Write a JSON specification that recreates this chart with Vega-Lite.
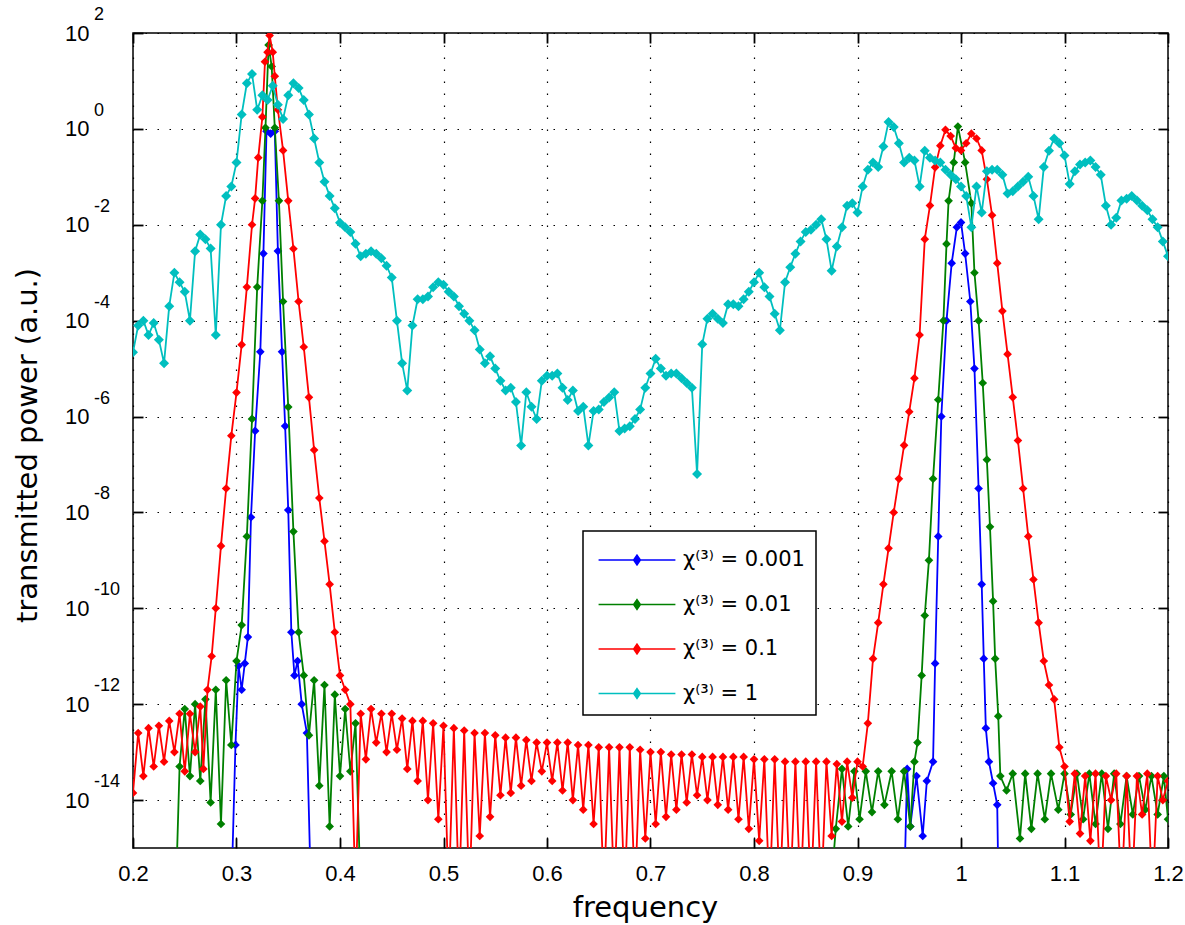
{
  "$schema": "https://vega.github.io/schema/vega-lite/v6.json",
  "width": 1035,
  "height": 815,
  "autosize": {"type": "none"},
  "padding": {"left": 133, "top": 33, "right": 17, "bottom": 77},
  "background": "white",
  "config": {
    "view": {"stroke": "black", "strokeWidth": 1.5},
    "font": "Liberation Sans",
    "axis": {
      "domain": false,
      "grid": true,
      "gridColor": "black",
      "gridDash": [1.5, 10.5],
      "gridWidth": 1.2,
      "tickColor": "black",
      "tickSize": -10,
      "tickWidth": 1.8,
      "labelColor": "black",
      "labelFont": "Liberation Sans",
      "labelFontSize": 22,
      "labelFlush": false,
      "labelOverlap": false,
      "labelBound": false,
      "titleColor": "black",
      "titleFont": "DejaVu Sans",
      "titleFontSize": 29,
      "titleFontWeight": "normal"
    }
  },
  "datasets": {
    "cyan": [
      {"x":0.2,"y":2.2e-5},{"x":0.205,"y":7.9e-5},{"x":0.21,"y":1e-4},{"x":0.215,"y":5e-5},{"x":0.22,"y":8.9e-5},{"x":0.225,"y":4e-5},{"x":0.23,"y":1.3e-5},{"x":0.235,"y":2e-4},{"x":0.24,"y":1e-3},{"x":0.245,"y":6.3e-4},
      {"x":0.25,"y":4e-4},{"x":0.255,"y":1e-4},{"x":0.26,"y":2.8e-3},{"x":0.265,"y":6.3e-3},{"x":0.27,"y":5e-3},{"x":0.275,"y":3.2e-3},{"x":0.28,"y":5e-5},{"x":0.285,"y":1e-2},{"x":0.29,"y":4e-2},{"x":0.295,"y":6.3e-2},
      {"x":0.3,"y":0.2},{"x":0.305,"y":2},{"x":0.31,"y":8.9},{"x":0.315,"y":14},{"x":0.32,"y":2.5},{"x":0.325,"y":5},{"x":0.33,"y":4},{"x":0.335,"y":7.9},{"x":0.34,"y":3.2},{"x":0.345,"y":1.6},
      {"x":0.35,"y":5},{"x":0.355,"y":8.9},{"x":0.36,"y":7.1},{"x":0.365,"y":4},{"x":0.37,"y":2},{"x":0.375,"y":0.63},{"x":0.38,"y":0.2},{"x":0.385,"y":7.9e-2},{"x":0.39,"y":4e-2},{"x":0.395,"y":2.2e-2},
      {"x":0.4,"y":1.1e-2},{"x":0.405,"y":8.9e-3},{"x":0.41,"y":7.1e-3},{"x":0.415,"y":4e-3},{"x":0.42,"y":2.2e-3},{"x":0.425,"y":2.5e-3},{"x":0.43,"y":2.8e-3},{"x":0.435,"y":2.5e-3},{"x":0.44,"y":2e-3},{"x":0.445,"y":1.4e-3},
      {"x":0.45,"y":7.9e-4},{"x":0.455,"y":1e-4},{"x":0.46,"y":1.3e-5},{"x":0.465,"y":3.5e-6},{"x":0.47,"y":7.9e-5},{"x":0.475,"y":2.8e-4},{"x":0.48,"y":2.8e-4},{"x":0.485,"y":3.2e-4},{"x":0.49,"y":5e-4},{"x":0.495,"y":6.3e-4},
      {"x":0.5,"y":5.6e-4},{"x":0.505,"y":4e-4},{"x":0.51,"y":3.2e-4},{"x":0.515,"y":2e-4},{"x":0.52,"y":1.4e-4},{"x":0.525,"y":1e-4},{"x":0.53,"y":6.3e-5},{"x":0.535,"y":2.5e-5},{"x":0.54,"y":1.3e-5},{"x":0.545,"y":1.8e-5},
      {"x":0.55,"y":1e-5},{"x":0.555,"y":5.6e-6},{"x":0.56,"y":3.5e-6},{"x":0.565,"y":4e-6},{"x":0.57,"y":2e-6},{"x":0.575,"y":2.5e-7},{"x":0.58,"y":3.2e-6},{"x":0.585,"y":1.6e-6},{"x":0.59,"y":8.9e-7},{"x":0.595,"y":5.6e-6},
      {"x":0.6,"y":7.1e-6},{"x":0.605,"y":7.1e-6},{"x":0.61,"y":7.9e-6},{"x":0.615,"y":4e-6},{"x":0.62,"y":2.2e-6},{"x":0.625,"y":3.5e-6},{"x":0.63,"y":1.3e-6},{"x":0.635,"y":1.6e-6},{"x":0.64,"y":2.5e-7},{"x":0.645,"y":1.3e-6},
      {"x":0.65,"y":1.4e-6},{"x":0.655,"y":2e-6},{"x":0.66,"y":2.5e-6},{"x":0.665,"y":3.2e-6},{"x":0.67,"y":5e-7},{"x":0.675,"y":5.6e-7},{"x":0.68,"y":6.3e-7},{"x":0.685,"y":8.9e-7},{"x":0.69,"y":1.4e-6},{"x":0.695,"y":4e-6},
      {"x":0.7,"y":7.9e-6},{"x":0.705,"y":1.6e-5},{"x":0.71,"y":1e-5},{"x":0.715,"y":7.1e-6},{"x":0.72,"y":7.9e-6},{"x":0.725,"y":7.9e-6},{"x":0.73,"y":6.3e-6},{"x":0.735,"y":5e-6},{"x":0.74,"y":4e-6},{"x":0.745,"y":6.3e-8},
      {"x":0.75,"y":3.2e-5},{"x":0.755,"y":1.1e-4},{"x":0.76,"y":1.4e-4},{"x":0.765,"y":1.1e-4},{"x":0.77,"y":8.9e-5},{"x":0.775,"y":2.2e-4},{"x":0.78,"y":2.2e-4},{"x":0.785,"y":2e-4},{"x":0.79,"y":2.8e-4},{"x":0.795,"y":4e-4},
      {"x":0.8,"y":6.3e-4},{"x":0.805,"y":1e-3},{"x":0.81,"y":5e-4},{"x":0.815,"y":3.2e-4},{"x":0.82,"y":1.4e-4},{"x":0.825,"y":6.3e-5},{"x":0.83,"y":6.3e-4},{"x":0.835,"y":1.3e-3},{"x":0.84,"y":2.5e-3},{"x":0.845,"y":4.5e-3},
      {"x":0.85,"y":7.1e-3},{"x":0.855,"y":7.9e-3},{"x":0.86,"y":1e-2},{"x":0.865,"y":1.3e-2},{"x":0.87,"y":5e-3},{"x":0.875,"y":1.1e-3},{"x":0.88,"y":3.5e-3},{"x":0.885,"y":8.9e-3},{"x":0.89,"y":2.5e-2},{"x":0.895,"y":2.8e-2},
      {"x":0.9,"y":1.8e-2},{"x":0.905,"y":6.3e-2},{"x":0.91,"y":0.14},{"x":0.915,"y":0.2},{"x":0.92,"y":0.16},{"x":0.925,"y":0.43},{"x":0.93,"y":1.4},{"x":0.935,"y":1.1},{"x":0.94,"y":0.5},{"x":0.945,"y":0.2},
      {"x":0.95,"y":0.25},{"x":0.955,"y":0.22},{"x":0.96,"y":6.3e-2},{"x":0.965,"y":0.35},{"x":0.97,"y":0.25},{"x":0.975,"y":0.22},{"x":0.98,"y":0.2},{"x":0.985,"y":0.14},{"x":0.99,"y":0.11},{"x":0.995,"y":8.9e-2},
      {"x":1,"y":6.3e-2},{"x":1.005,"y":4e-2},{"x":1.01,"y":8.9e-3},{"x":1.015,"y":6.3e-2},{"x":1.02,"y":1.8e-2},{"x":1.025,"y":0.13},{"x":1.03,"y":0.14},{"x":1.035,"y":0.14},{"x":1.04,"y":0.11},{"x":1.045,"y":4.5e-2},
      {"x":1.05,"y":5e-2},{"x":1.055,"y":6.3e-2},{"x":1.06,"y":7.9e-2},{"x":1.065,"y":0.1},{"x":1.07,"y":4e-2},{"x":1.075,"y":1.3e-2},{"x":1.08,"y":0.16},{"x":1.085,"y":0.35},{"x":1.09,"y":0.63},{"x":1.095,"y":0.5},
      {"x":1.1,"y":0.28},{"x":1.105,"y":7.1e-2},{"x":1.11,"y":0.13},{"x":1.115,"y":0.18},{"x":1.12,"y":0.2},{"x":1.125,"y":0.22},{"x":1.13,"y":0.16},{"x":1.135,"y":0.11},{"x":1.14,"y":2.5e-2},{"x":1.145,"y":1e-2},
      {"x":1.15,"y":1.4e-2},{"x":1.155,"y":3.2e-2},{"x":1.16,"y":3.5e-2},{"x":1.165,"y":4e-2},{"x":1.17,"y":3.2e-2},{"x":1.175,"y":2.5e-2},{"x":1.18,"y":2e-2},{"x":1.185,"y":1.3e-2},{"x":1.19,"y":8.9e-3},{"x":1.195,"y":4.5e-3},
      {"x":1.2,"y":2.2e-3}
    ],
    "red": [
      {"x":0.2,"y":1.41e-14},{"x":0.205,"y":2.51e-13},{"x":0.21,"y":3.16e-14},{"x":0.215,"y":3.16e-13},{"x":0.22,"y":5.01e-14},{"x":0.225,"y":3.55e-13},{"x":0.23,"y":6.31e-14},{"x":0.235,"y":4.47e-13},{"x":0.24,"y":1e-13},{"x":0.245,"y":6.31e-13},
      {"x":0.25,"y":3.98e-14},{"x":0.255,"y":6.31e-13},{"x":0.26,"y":1e-13},{"x":0.265,"y":8.91e-13},{"x":0.268,"y":4.47e-14},{"x":0.272,"y":2e-12},{"x":0.276,"y":1e-11},{"x":0.28,"y":1e-10},{"x":0.285,"y":2e-9},{"x":0.29,"y":3.16e-8},
      {"x":0.295,"y":3.98e-7},{"x":0.3,"y":3.16e-6},{"x":0.305,"y":3.16e-5},{"x":0.31,"y":5.01e-4},{"x":0.315,"y":1e-2},{"x":0.318,"y":3.55e-2},{"x":0.321,"y":0.251},{"x":0.325,"y":1.78},{"x":0.3275,"y":25.1},{"x":0.33,"y":39.8},
      {"x":0.332,"y":89.1},{"x":0.335,"y":39.8},{"x":0.337,"y":12.6},{"x":0.34,"y":2.51},{"x":0.345,"y":0.355},{"x":0.35,"y":3.16e-2},{"x":0.355,"y":3.16e-3},{"x":0.36,"y":2.51e-4},{"x":0.365,"y":2.82e-5},{"x":0.37,"y":2.51e-6},
      {"x":0.375,"y":2e-7},{"x":0.38,"y":2e-8},{"x":0.385,"y":2.51e-9},{"x":0.39,"y":3.16e-10},{"x":0.395,"y":3.16e-11},{"x":0.4,"y":3.98e-12},{"x":0.405,"y":2e-12},{"x":0.41,"y":1e-12},{"x":0.415,"y":1e-16},{"x":0.42,"y":6.31e-13},
      {"x":0.425,"y":7.08e-14},{"x":0.43,"y":7.94e-13},{"x":0.435,"y":1.58e-13},{"x":0.44,"y":6.31e-13},{"x":0.445,"y":1e-13},{"x":0.45,"y":6.31e-13},{"x":0.455,"y":1.12e-13},{"x":0.46,"y":5.01e-13},{"x":0.465,"y":4.47e-14},{"x":0.47,"y":4.47e-13},
      {"x":0.475,"y":2.51e-14},{"x":0.48,"y":4.47e-13},{"x":0.485,"y":1e-14},{"x":0.49,"y":3.98e-13},{"x":0.495,"y":3.98e-15},{"x":0.5,"y":3.55e-13},{"x":0.505,"y":1e-16},{"x":0.51,"y":3.16e-13},{"x":0.515,"y":1e-16},{"x":0.52,"y":2.82e-13},
      {"x":0.525,"y":1e-16},{"x":0.53,"y":2.51e-13},{"x":0.535,"y":1.78e-15},{"x":0.54,"y":2.51e-13},{"x":0.545,"y":4.47e-15},{"x":0.55,"y":2.24e-13},{"x":0.555,"y":1.26e-14},{"x":0.56,"y":2e-13},{"x":0.565,"y":1.41e-14},{"x":0.57,"y":2e-13},
      {"x":0.575,"y":2e-14},{"x":0.58,"y":1.78e-13},{"x":0.585,"y":2.51e-14},{"x":0.59,"y":1.58e-13},{"x":0.595,"y":3.98e-14},{"x":0.6,"y":1.58e-13},{"x":0.605,"y":2.51e-14},{"x":0.61,"y":1.58e-13},{"x":0.615,"y":1.58e-14},{"x":0.62,"y":1.58e-13},
      {"x":0.625,"y":1e-14},{"x":0.63,"y":1.41e-13},{"x":0.635,"y":6.31e-15},{"x":0.64,"y":1.41e-13},{"x":0.645,"y":3.16e-15},{"x":0.65,"y":1.26e-13},{"x":0.655,"y":1e-16},{"x":0.66,"y":1.26e-13},{"x":0.665,"y":1e-16},{"x":0.67,"y":1.26e-13},
      {"x":0.675,"y":1e-16},{"x":0.68,"y":1.26e-13},{"x":0.685,"y":1e-16},{"x":0.69,"y":1.12e-13},{"x":0.695,"y":1.58e-15},{"x":0.7,"y":1e-13},{"x":0.705,"y":3.16e-15},{"x":0.71,"y":1e-13},{"x":0.715,"y":4.47e-15},{"x":0.72,"y":8.91e-14},
      {"x":0.725,"y":6.31e-15},{"x":0.73,"y":8.91e-14},{"x":0.735,"y":8.91e-15},{"x":0.74,"y":8.91e-14},{"x":0.745,"y":1.26e-14},{"x":0.75,"y":7.94e-14},{"x":0.755,"y":1e-14},{"x":0.76,"y":7.94e-14},{"x":0.765,"y":7.94e-15},{"x":0.77,"y":7.94e-14},
      {"x":0.775,"y":6.31e-15},{"x":0.78,"y":7.94e-14},{"x":0.785,"y":3.98e-15},{"x":0.79,"y":7.94e-14},{"x":0.795,"y":2.51e-15},{"x":0.8,"y":7.08e-14},{"x":0.805,"y":1.41e-15},{"x":0.81,"y":7.08e-14},{"x":0.815,"y":1e-16},{"x":0.82,"y":7.08e-14},
      {"x":0.825,"y":1e-16},{"x":0.83,"y":6.31e-14},{"x":0.835,"y":1e-16},{"x":0.84,"y":6.31e-14},{"x":0.845,"y":1e-16},{"x":0.85,"y":6.31e-14},{"x":0.855,"y":1e-16},{"x":0.86,"y":6.31e-14},{"x":0.865,"y":1e-16},{"x":0.87,"y":6.31e-14},
      {"x":0.875,"y":1.78e-15},{"x":0.88,"y":5.62e-14},{"x":0.885,"y":3.55e-15},{"x":0.89,"y":6.31e-14},{"x":0.895,"y":1.12e-14},{"x":0.9,"y":6.31e-14},{"x":0.905,"y":5.01e-14},{"x":0.91,"y":3.98e-13},{"x":0.915,"y":8.91e-12},{"x":0.92,"y":5.01e-11},
      {"x":0.925,"y":3.16e-10},{"x":0.93,"y":1.78e-9},{"x":0.935,"y":1e-8},{"x":0.94,"y":5.01e-8},{"x":0.945,"y":2.51e-7},{"x":0.95,"y":1.26e-6},{"x":0.955,"y":6.31e-6},{"x":0.96,"y":5.01e-5},{"x":0.965,"y":5.01e-3},{"x":0.97,"y":2.51e-2},
      {"x":0.975,"y":0.158},{"x":0.98,"y":0.447},{"x":0.985,"y":0.955},{"x":0.99,"y":0.708},{"x":0.995,"y":0.398},{"x":1,"y":0.355},{"x":1.005,"y":0.501},{"x":1.01,"y":0.794},{"x":1.015,"y":0.631},{"x":1.02,"y":0.355},
      {"x":1.025,"y":8.91e-2},{"x":1.03,"y":1.58e-2},{"x":1.035,"y":1.58e-3},{"x":1.04,"y":1.58e-4},{"x":1.045,"y":2e-5},{"x":1.05,"y":2.51e-6},{"x":1.055,"y":3.16e-7},{"x":1.06,"y":3.16e-8},{"x":1.065,"y":3.16e-9},{"x":1.07,"y":3.98e-10},
      {"x":1.075,"y":5.01e-11},{"x":1.08,"y":7.94e-12},{"x":1.085,"y":2.51e-12},{"x":1.09,"y":1.26e-12},{"x":1.095,"y":1.26e-13},{"x":1.1,"y":5.01e-14},{"x":1.105,"y":3.55e-15},{"x":1.11,"y":3.55e-14},{"x":1.115,"y":2e-15},{"x":1.12,"y":3.16e-14},
      {"x":1.125,"y":1.41e-15},{"x":1.13,"y":3.55e-14},{"x":1.135,"y":1e-16},{"x":1.14,"y":3.16e-14},{"x":1.145,"y":1e-14},{"x":1.15,"y":3.55e-14},{"x":1.155,"y":1e-16},{"x":1.16,"y":3.16e-14},{"x":1.165,"y":1e-16},{"x":1.17,"y":3.16e-14},
      {"x":1.175,"y":5.01e-15},{"x":1.18,"y":3.55e-14},{"x":1.185,"y":1e-16},{"x":1.19,"y":3.16e-14},{"x":1.195,"y":1e-14},{"x":1.2,"y":2.51e-14}
    ],
    "green": [
      {"x":0.24,"y":1e-17},{"x":0.245,"y":5.01e-14},{"x":0.25,"y":7.94e-13},{"x":0.255,"y":3.16e-14},{"x":0.26,"y":1e-12},{"x":0.265,"y":2.51e-14},{"x":0.27,"y":1.26e-12},{"x":0.275,"y":8.91e-15},{"x":0.28,"y":2e-12},{"x":0.285,"y":3.16e-15},
      {"x":0.29,"y":3.16e-12},{"x":0.295,"y":1.41e-13},{"x":0.3,"y":7.94e-12},{"x":0.305,"y":4.47e-11},{"x":0.31,"y":3.16e-9},{"x":0.315,"y":8.91e-7},{"x":0.32,"y":5.01e-4},{"x":0.325,"y":3.16e-2},{"x":0.328,"y":1.05},{"x":0.331,"y":56.2},
      {"x":0.334,"y":20},{"x":0.337,"y":1.05},{"x":0.341,"y":3.16e-2},{"x":0.345,"y":2.51e-4},{"x":0.35,"y":1.58e-6},{"x":0.355,"y":3.98e-9},{"x":0.36,"y":3.16e-11},{"x":0.365,"y":3.98e-12},{"x":0.37,"y":2.24e-13},{"x":0.375,"y":3.16e-12},
      {"x":0.38,"y":2e-14},{"x":0.385,"y":2.51e-12},{"x":0.39,"y":2.82e-15},{"x":0.395,"y":1.58e-12},{"x":0.4,"y":3.16e-14},{"x":0.405,"y":7.94e-13},{"x":0.41,"y":3.98e-14},{"x":0.415,"y":3.98e-13},{"x":0.42,"y":1e-16},{"x":0.425,"y":1e-17},
      {"x":0.87,"y":1e-17},{"x":0.879,"y":2.51e-15},{"x":0.885,"y":4.47e-14},{"x":0.891,"y":2.82e-15},{"x":0.897,"y":3.98e-14},{"x":0.902,"y":3.98e-15},{"x":0.908,"y":3.98e-14},{"x":0.914,"y":5.62e-15},{"x":0.92,"y":3.98e-14},{"x":0.926,"y":7.94e-15},
      {"x":0.933,"y":3.98e-14},{"x":0.939,"y":3.98e-15},{"x":0.945,"y":3.98e-14},{"x":0.951,"y":2.82e-15},{"x":0.955,"y":6.31e-14},{"x":0.958,"y":1.58e-13},{"x":0.962,"y":3.98e-12},{"x":0.965,"y":7.08e-11},{"x":0.969,"y":1e-9},{"x":0.973,"y":5.01e-8},
      {"x":0.978,"y":2.24e-6},{"x":0.983,"y":1e-4},{"x":0.986,"y":3.98e-3},{"x":0.988,"y":3.16e-2},{"x":0.993,"y":0.2},{"x":0.997,"y":1.12},{"x":1.004,"y":0.2},{"x":1.01,"y":2.82e-2},{"x":1.013,"y":1e-3},{"x":1.017,"y":1e-4},
      {"x":1.021,"y":5.01e-6},{"x":1.025,"y":1.26e-7},{"x":1.028,"y":5.01e-9},{"x":1.031,"y":1.41e-10},{"x":1.033,"y":8.91e-12},{"x":1.036,"y":5.62e-13},{"x":1.038,"y":3.16e-14},{"x":1.044,"y":1.58e-14},{"x":1.05,"y":3.55e-14},{"x":1.057,"y":1.58e-15},
      {"x":1.062,"y":3.55e-14},{"x":1.068,"y":2.51e-15},{"x":1.074,"y":3.55e-14},{"x":1.081,"y":3.98e-15},{"x":1.087,"y":3.55e-14},{"x":1.094,"y":6.31e-15},{"x":1.1,"y":3.55e-14},{"x":1.106,"y":5.01e-15},{"x":1.112,"y":3.55e-14},{"x":1.118,"y":3.98e-15},
      {"x":1.124,"y":3.55e-14},{"x":1.13,"y":3.16e-15},{"x":1.136,"y":3.55e-14},{"x":1.142,"y":2.51e-15},{"x":1.148,"y":3.55e-14},{"x":1.154,"y":3.16e-15},{"x":1.16,"y":3.16e-14},{"x":1.166,"y":5.01e-15},{"x":1.172,"y":3.16e-14},{"x":1.178,"y":6.31e-15},
      {"x":1.184,"y":3.16e-14},{"x":1.19,"y":5.01e-15},{"x":1.196,"y":3.16e-14},{"x":1.2,"y":3.98e-15}
    ],
    "blue": [
      {"x":0.29,"y":1e-17},{"x":0.295,"y":1e-16},{"x":0.299,"y":1.41e-13},{"x":0.302,"y":6.31e-12},{"x":0.305,"y":2e-12},{"x":0.308,"y":7.08e-12},{"x":0.311,"y":2.51e-11},{"x":0.314,"y":7.94e-9},{"x":0.318,"y":5.01e-7},{"x":0.323,"y":2.24e-5},
      {"x":0.326,"y":2.51e-3},{"x":0.329,"y":0.891},{"x":0.333,"y":0.794},{"x":0.337,"y":0.891},{"x":0.34,"y":2.82e-3},{"x":0.344,"y":2.24e-5},{"x":0.347,"y":6.31e-7},{"x":0.35,"y":1.12e-8},{"x":0.353,"y":3.16e-11},{"x":0.356,"y":3.98e-12},
      {"x":0.359,"y":7.94e-12},{"x":0.363,"y":1e-12},{"x":0.368,"y":2.51e-13},{"x":0.372,"y":1e-16},{"x":0.38,"y":1e-17},{"x":0.94,"y":1e-17},{"x":0.945,"y":1e-16},{"x":0.948,"y":4.47e-14},{"x":0.951,"y":2.82e-15},{"x":0.957,"y":3.16e-14},
      {"x":0.963,"y":1.78e-15},{"x":0.967,"y":2.51e-14},{"x":0.973,"y":6.31e-14},{"x":0.975,"y":7.08e-12},{"x":0.978,"y":3.16e-9},{"x":0.981,"y":1e-6},{"x":0.986,"y":1e-4},{"x":0.991,"y":1.58e-3},{"x":0.996,"y":8.91e-3},{"x":1,"y":1.12e-2},
      {"x":1.004,"y":2.51e-3},{"x":1.009,"y":2.51e-4},{"x":1.013,"y":1e-5},{"x":1.017,"y":3.16e-8},{"x":1.02,"y":3.16e-10},{"x":1.022,"y":8.91e-12},{"x":1.024,"y":3.16e-13},{"x":1.027,"y":6.31e-14},{"x":1.031,"y":2.24e-14},{"x":1.035,"y":7.94e-15},
      {"x":1.037,"y":1e-17},{"x":1.2,"y":1e-17}
    ],
    "exponents": [
      {"v":100,"e":"2"},{"v":1,"e":"0"},{"v":0.01,"e":"-2"},{"v":1e-4,"e":"-4"},{"v":1e-6,"e":"-6"},{"v":1e-8,"e":"-8"},{"v":1e-10,"e":"-10"},{"v":1e-12,"e":"-12"},{"v":1e-14,"e":"-14"}
    ]
  },
  "layer": [
    {
      "data": {"name": "blue"},
      "mark": {"type": "line", "strokeWidth": 1.8, "clip": true, "point": {"filled": true, "shape": "diamond", "size": 75}},
      "encoding": {
        "x": {"field": "x", "type": "quantitative", "scale": {"domain": [0.2, 1.2], "nice": false, "zero": false},
          "axis": {"values": [0.2,0.3,0.4,0.5,0.6,0.7,0.8,0.9,1,1.1,1.2], "format": "~g", "labelPadding": 25, "title": "frequency", "titleX": 512, "titleY": 45, "titleAlign": "center", "titleBaseline": "top"}},
        "y": {"field": "y", "type": "quantitative", "scale": {"type": "log", "domain": [1e-15, 100], "nice": false},
          "axis": {"values": [100,1,0.01,1e-4,1e-6,1e-8,1e-10,1e-12,1e-14], "labelExpr": "'10'", "labelPadding": 54, "title": "transmitted power (a.u.)", "titleX": -91, "titleY": 412, "titleAngle": -90, "titleBaseline": "bottom", "titleAlign": "center"}},
        "color": {"datum": "χ⁽³⁾ = 0.001", "type": "nominal",
          "scale": {"domain": ["χ⁽³⁾ = 0.001", "χ⁽³⁾ = 0.01", "χ⁽³⁾ = 0.1", "χ⁽³⁾ = 1"], "range": ["#0000ff", "#008000", "#ff0000", "#00bfbf"]},
          "legend": {
            "orient": "none", "legendX": 450, "legendY": 498, "title": null,
            "symbolType": "M-2.26,0H2.26M0,-0.29L0.2,0L0,0.29L-0.2,0Z",
            "symbolSize": 1156, "symbolStrokeWidth": 1.5, "symbolOffset": 25,
            "labelFontSize": 21, "labelFont": "DejaVu Sans", "labelColor": "black", "labelOffset": 28, "labelLimit": 400,
            "padding": 11, "rowPadding": 16.5,
            "strokeColor": "black", "fillColor": "white",
            "encode": {
              "symbols": {"update": {"fill": {"scale": "color", "field": "value"}, "stroke": {"scale": "color", "field": "value"}, "strokeWidth": {"value": 1.5}, "opacity": {"value": 1}}},
              "legend": {"update": {"strokeWidth": {"value": 1.5}}}
            }
          }}
      }
    },
    {
      "data": {"name": "green"},
      "mark": {"type": "line", "strokeWidth": 1.8, "clip": true, "point": {"filled": true, "shape": "diamond", "size": 75}},
      "encoding": {
        "x": {"field": "x", "type": "quantitative", "axis": null},
        "y": {"field": "y", "type": "quantitative", "axis": null},
        "color": {"datum": "χ⁽³⁾ = 0.01", "type": "nominal"}
      }
    },
    {
      "data": {"name": "red"},
      "mark": {"type": "line", "strokeWidth": 1.8, "clip": true, "point": {"filled": true, "shape": "diamond", "size": 75}},
      "encoding": {
        "x": {"field": "x", "type": "quantitative", "axis": null},
        "y": {"field": "y", "type": "quantitative", "axis": null},
        "color": {"datum": "χ⁽³⁾ = 0.1", "type": "nominal"}
      }
    },
    {
      "data": {"name": "cyan"},
      "mark": {"type": "line", "strokeWidth": 1.8, "clip": true, "point": {"filled": true, "shape": "diamond", "size": 100}},
      "encoding": {
        "x": {"field": "x", "type": "quantitative", "axis": null},
        "y": {"field": "y", "type": "quantitative", "axis": null},
        "color": {"datum": "χ⁽³⁾ = 1", "type": "nominal"}
      }
    },
    {
      "data": {"name": "cyan"},
      "mark": {"type": "point", "opacity": 0},
      "encoding": {
        "x": {"field": "x", "type": "quantitative",
          "axis": {"orient": "top", "labels": false, "grid": false, "title": null, "values": [0.2,0.3,0.4,0.5,0.6,0.7,0.8,0.9,1,1.1,1.2]}},
        "y": {"field": "y", "type": "quantitative",
          "axis": {"orient": "right", "labels": false, "grid": false, "title": null, "values": [100,1,0.01,1e-4,1e-6,1e-8,1e-10,1e-12,1e-14]}}
      }
    },
    {
      "data": {"name": "exponents"},
      "mark": {"type": "text", "align": "left", "baseline": "middle", "dx": -39, "dy": -18, "fontSize": 18, "font": "Liberation Sans", "color": "black"},
      "encoding": {
        "x": {"datum": 0.2, "type": "quantitative", "axis": null},
        "y": {"field": "v", "type": "quantitative", "axis": null},
        "text": {"field": "e"}
      }
    }
  ],
  "resolve": {"axis": {"x": "independent", "y": "independent"}}
}
